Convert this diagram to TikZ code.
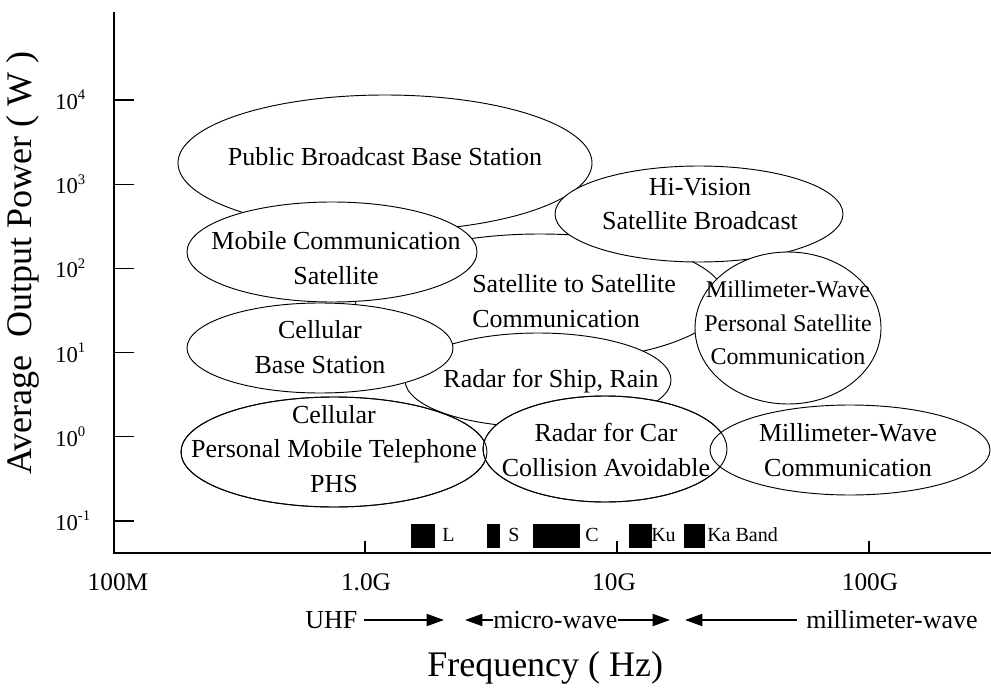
\documentclass[tikz,border=0pt]{standalone}
\usepackage{fontspec}
\setmainfont{Liberation Serif}
\usetikzlibrary{arrows.meta}
\newcommand\tpow[1]{10\raisebox{0.42em}{\fontsize{11}{11}\selectfont #1}}
\begin{document}
\begin{tikzpicture}[x=0.75pt,y=-0.75pt,
  ell/.style={draw=black, fill=white, line width=0.7pt},
  ellline/.style={draw=black, line width=0.7pt},
  lbl/.style={font=\fontsize{19.5}{26}\selectfont, align=center, inner sep=0pt},
  smlbl/.style={font=\fontsize{18}{25}\selectfont, align=center, inner sep=0pt},
  ytick/.style={font=\fontsize{17}{20}\selectfont, inner sep=0pt, anchor=west},
  xtick/.style={font=\fontsize{19}{22}\selectfont, inner sep=0pt},
  axisline/.style={line width=0.9pt},
  bandbox/.style={fill=black},
  bandlbl/.style={font=\fontsize{15}{17}\selectfont, anchor=west, inner sep=0pt},
  rowlbl/.style={font=\fontsize{19.5}{22}\selectfont, inner sep=0pt, anchor=west},
  arr/.style={line width=1.3pt, -{Triangle[length=13pt,width=9pt]}},
  big/.style={font=\fontsize{27}{30}\selectfont, inner sep=0pt}
]
\useasboundingbox (0,0) rectangle (991,695);

% axes
\coordinate (O) at (114,553);
\coordinate (ytop) at (114,12);
\coordinate (xend) at (991,553);
\draw[axisline] (ytop) -- (O) -- (xend);

% y ticks
\foreach \lab [count=\i from 0] in {\tpow{4},\tpow{3},\tpow{2},\tpow{1},\tpow{0},\tpow{-1}}{
  \pgfmathsetmacro{\yy}{100+84.2*\i}
  \draw[axisline] (114,\yy) -- (134,\yy);
  \node[ytick] (yt\i) at (55,\yy) {\lab};
}

% x ticks
\foreach \xx in {365,617,869}{ \draw[axisline] (\xx,553) -- (\xx,541); }
\node[xtick] (x100M) at (118,582) {100M};
\node[xtick] (x1G) at (366,582) {1.0G};
\node[xtick] (x10G) at (614,582) {10G};
\node[xtick] (x100G) at (870,582) {100G};

% ellipses (order = stacking)
\path[ell] (385,163) ellipse [x radius=207, y radius=68];
\path[ell] (540,298) ellipse [x radius=185, y radius=64];
\path[ell] (699,214) ellipse [x radius=144, y radius=48];
\path[ell] (332,252) ellipse [x radius=145, y radius=50];
\path[ell] (788,328) ellipse [x radius=93, y radius=76];
\path[ell] (538,380) ellipse [x radius=133, y radius=47];
\path[ell] (320,348) ellipse [x radius=133, y radius=45];
\path[ell] (334,452) ellipse [x radius=153, y radius=55];
\path[ell] (605,449) ellipse [x radius=122, y radius=53];
\path[ell] (850,450) ellipse [x radius=140, y radius=45];
% lens overlaps where both outlines show
\path[ellline] (334,452) ellipse [x radius=153, y radius=55];
\path[ellline] (605,449) ellipse [x radius=122, y radius=53];

% ellipse texts
\node[lbl] (pb) at (385,157) {Public Broadcast Base Station};
\node[lbl] (hv) at (700,204) {Hi-Vision\\Satellite Broadcast};
\node[lbl] (mc) at (336,258) {Mobile Communication\\Satellite};
\node[lbl, align=left, anchor=west] (ss) at (472,301) {Satellite to Satellite\\Communication};
\node[smlbl] (mp) at (788,323) {Millimeter-Wave\\Personal Satellite\\Communication};
\node[lbl] (cb) at (320,347) {Cellular\\Base Station};
\node[lbl] (rs) at (551,381) {Radar for Ship, Rain};
\node[lbl] (phs) at (334,449) {Cellular\\Personal Mobile Telephone\\PHS};
\node[lbl] (rc) at (606,450) {Radar for Car\\Collision Avoidable};
\node[lbl] (mw2) at (848,450) {Millimeter-Wave\\Communication};

% bands
\fill[bandbox] (411,524) rectangle (435,548);
\fill[bandbox] (487,524) rectangle (500,548);
\fill[bandbox] (533,524) rectangle (580,548);
\fill[bandbox] (629,524) rectangle (652,548);
\fill[bandbox] (684,524) rectangle (705,548);
\node[bandlbl] (bL) at (442,535) {L};
\node[bandlbl] (bS) at (508,535) {S};
\node[bandlbl] (bC) at (585,535) {C};
\node[bandlbl] (bKu) at (651,535) {Ku};
\node[bandlbl] (bKa) at (707,535) {Ka Band};

% bottom row
\node[rowlbl] (uhf) at (305,620) {UHF};
\coordinate (uhfend) at (444,620);
\draw[arr] ([xshift=5pt]uhf.east) -- (uhfend);
\node[rowlbl] (micro) at (493,620) {micro-wave};
\coordinate (microL) at (465,620);
\coordinate (microR) at (670,620);
\draw[arr] (micro.west) -- (microL);
\draw[arr] (micro.east) -- (microR);
\node[rowlbl] (mmw) at (806,620) {millimeter-wave};
\coordinate (mmwL) at (685,620);
\draw[arr] ([xshift=-7pt]mmw.west) -- (mmwL);

% axis titles
\node[big, rotate=90] (ylab) at (23,263) {Average\ \ Output Power ( W )};
\node[big, anchor=west] (xlab) at (427,668) {Frequency ( Hz)};
\end{tikzpicture}
\end{document}
